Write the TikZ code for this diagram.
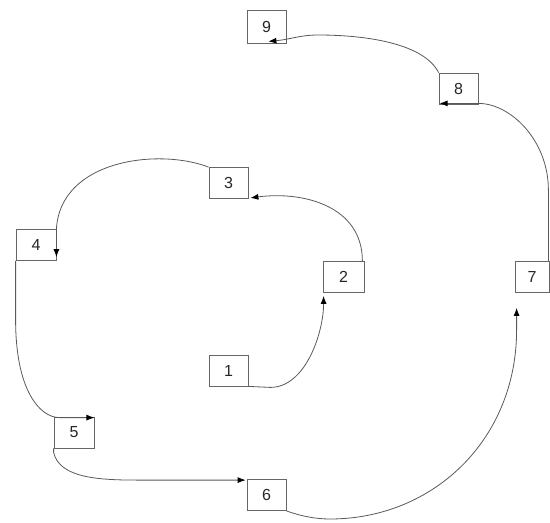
\documentclass[tikz,border=0pt]{standalone}
\usepackage{fontspec}
\setmainfont{Liberation Sans}
\usetikzlibrary{arrows.meta,calc}
\begin{document}
\begin{tikzpicture}[x=1pt,y=-1pt,
  box/.style={draw=black!60,line width=0.8pt,minimum width=39pt,minimum height=31pt,inner sep=0pt,font=\fontsize{16}{16}\selectfont,text=black!85},
  conn/.style={draw=black!65,line width=0.8pt,-{Latex[length=8pt,width=6pt,fill=black,color=black]}}]
\useasboundingbox (0,0) rectangle (550,523);
\node[box] (n1) at (228.5,370.5) {1};
\node[box,minimum width=41pt] (n2) at (343.5,277) {2};
\node[box] (n3) at (228.5,183) {3};
\node[box,minimum width=40pt] (n4) at (36,245) {4};
\node[box,minimum width=40pt] (n5) at (74,432.5) {5};
\node[box] (n6) at (266.5,495) {6};
\node[box,minimum width=34pt] (n7) at (532,277) {7};
\node[box] (n8) at (458.5,88.5) {8};
\node[box,minimum height=33pt] (n9) at (266.5,26.5) {9};
% 1 -> 2
\draw[conn] (n1.south east) -- ++(22,1) .. controls +(35,0) and ($(n2.south west)+(1,40)$) .. ($(n2.south west)+(1,3)$);
% 2 -> 3
\draw[conn] ($(n2.north east)+(-2,0)$) .. controls +(0,-55) and ($(n3.south east)+(55,-8)$) .. ($(n3.south east)+(2,-1)$);
% 3 -> 4
\draw[conn] (n3.north west) .. controls +(-49,-19) and ($(n4.north east)+(4,-70)$) .. (n4.north east) -- ($(n4.north east)+(0,28)$);
% 4 -> 5
\draw[conn] (n4.south west) -- ++(0,59) .. controls +(0,70) and ($(n5.north west)+(-14,1)$) .. ($(n5.north west)+(6,1)$) -- ($(n5.north east)+(0,1)$);
% 5 -> 6
\draw[conn] (n5.south west) -- ++(0,4) .. controls +(6,26) and ($(n6.north west)+(-147,1)$) .. ($(n6.north west)+(-107,1)$) -- ($(n6.north west)+(-1,1)$);
% 6 -> 7
\draw[conn] (n6.south east) .. controls +(14,5) and (315,519) .. (330,519) .. controls (433,519) and ($(n7.south west)+(2,147)$) .. ($(n7.south west)+(2,37)$) -- ($(n7.south west)+(2,15)$);
% 7 -> 8
\draw[conn] ($(n7.north east)+(-1,0)$) -- ++(0,-71) .. controls +(0,-50) and ($(n8.south east)+(32,-1)$) .. ($(n8.south east)+(0,-1)$) -- ($(n8.south west)+(1,-1)$);
% 8 -> 9
\draw[conn] (n8.north west) .. controls +(-14,-28) and (370,35) .. (318,35) .. controls (300,35) and ($(n9.south east)+(4,-4)$) .. ($(n9.south east)+(-18,-2)$);
\end{tikzpicture}
\end{document}
